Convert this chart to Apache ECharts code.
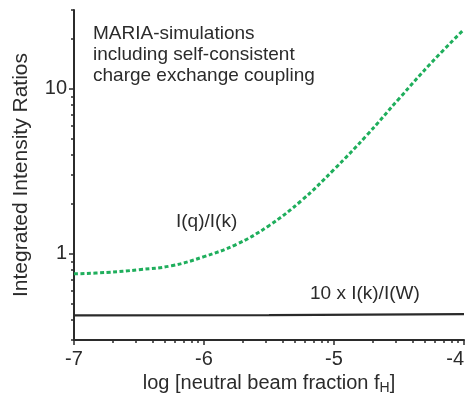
<!DOCTYPE html>
<html>
<head>
<meta charset="utf-8">
<script src="https://cdn.jsdelivr.net/npm/echarts@6/dist/echarts.min.js"></script>
<style>
  html, body { margin: 0; padding: 0; background: #fff; }
  #chart { width: 469px; height: 400px; }
</style>
</head>
<body>
<div id="chart"></div>
<script>
// log of neutral beam fraction f_H
const logFraction = [-7, -6.75, -6.5, -6.25, -6, -5.75, -5.5, -5.25, -5, -4.75, -4.5, -4.25, -4];
// I(q)/I(k) intensity ratio
const ratioQK = [0.755, 0.77, 0.80, 0.845, 0.96, 1.14, 1.48, 2.10, 3.24, 5.2, 8.7, 14.4, 22.9];
// 10 x I(k)/I(W) intensity ratio
const ratioKWx = [-7, -5.5, -4];
const ratioKW = [0.423, 0.425, 0.43];

const xMajorTicks = [-7, -6, -5, -4];
const yMajorTicks = [1, 10];
const yMinorTicks = [0.3, 0.4, 0.5, 0.6, 0.7, 0.8, 0.9, 2, 3, 4, 5, 6, 7, 8, 9, 20, 30];
const xMinorTicks = [];
[-7, -6, -5].forEach(function (d) {
  for (let k = 2; k <= 9; k++) xMinorTicks.push(d + Math.log10(k));
});

const ink = '#2b2b2b';
const font = 'Liberation Sans, Arial, Helvetica, sans-serif';

const chart = echarts.init(document.getElementById('chart'));
chart.setOption({
  animation: false,
  backgroundColor: '#fff',
  grid: { left: 74, right: 5, top: 10, bottom: 60, containLabel: false, outerBoundsMode: 'none' },
  xAxis: [{
    type: 'value', min: -7, max: -4, position: 'bottom',
    axisLine: { show: true, onZero: false, lineStyle: { color: ink, width: 2 } },
    axisTick: { show: true, customValues: xMajorTicks, length: 5, lineStyle: { color: ink, width: 1.5 } },
    axisLabel: { customValues: xMajorTicks, color: ink, fontSize: 20, fontFamily: font, margin: 9, alignMaxLabel: 'right' },
    splitLine: { show: false },
    name: 'log [neutral beam fraction f{sub|H}]',
    nameLocation: 'middle', nameGap: 32,
    nameTextStyle: {
      color: ink, fontSize: 20, fontFamily: font,
      rich: { sub: { fontSize: 14, fontFamily: font, color: ink, verticalAlign: 'bottom', padding: [9, 0, 0, 0] } }
    }
  }, {
    type: 'value', min: -7, max: -4, position: 'bottom',
    axisLine: { show: false },
    axisTick: { show: true, customValues: xMinorTicks, length: 3, lineStyle: { color: ink, width: 1.5 } },
    axisLabel: { show: false },
    splitLine: { show: false }
  }],
  yAxis: [{
    type: 'log', min: 0.3, max: 30, logBase: 10, position: 'left',
    axisLine: { show: true, onZero: false, lineStyle: { color: ink, width: 2 } },
    axisTick: { show: true, customValues: yMajorTicks, length: 5, lineStyle: { color: ink, width: 1.5 } },
    axisLabel: { customValues: yMajorTicks, color: ink, fontSize: 20, fontFamily: font, margin: 7 },
    splitLine: { show: false },
    name: 'Integrated Intensity Ratios',
    nameLocation: 'middle', nameGap: 42,
    nameTextStyle: { color: ink, fontSize: 21, fontFamily: font }
  }, {
    type: 'log', min: 0.3, max: 30, logBase: 10, position: 'left',
    axisLine: { show: false },
    axisTick: { show: true, customValues: yMinorTicks, length: 3, lineStyle: { color: ink, width: 1.5 } },
    axisLabel: { show: false },
    splitLine: { show: false }
  }],
  series: [{
    name: 'I(q)/I(k)',
    type: 'line', smooth: 0.4, symbol: 'none',
    xAxisIndex: 0, yAxisIndex: 0,
    data: logFraction.map(function (x, i) { return [x, ratioQK[i]]; }),
    lineStyle: { color: '#1fae5c', width: 3, type: [4, 2.5], cap: 'butt' }
  }, {
    name: '10 x I(k)/I(W)',
    type: 'line', symbol: 'none',
    xAxisIndex: 0, yAxisIndex: 0,
    data: ratioKWx.map(function (x, i) { return [x, ratioKW[i]]; }),
    lineStyle: { color: '#2a2a2a', width: 2.2 }
  }],
  graphic: [{
    type: 'text', left: 93, top: 23,
    style: {
      text: 'MARIA-simulations\nincluding self-consistent\ncharge exchange coupling',
      fill: ink, font: '19px ' + font, lineHeight: 21
    }
  }, {
    type: 'text', left: 176, top: 212,
    style: { text: 'I(q)/I(k)', fill: ink, font: '19px ' + font }
  }, {
    type: 'text', left: 310, top: 284,
    style: { text: '10 x I(k)/I(W)', fill: ink, font: '19px ' + font }
  }]
});
</script>
</body>
</html>
